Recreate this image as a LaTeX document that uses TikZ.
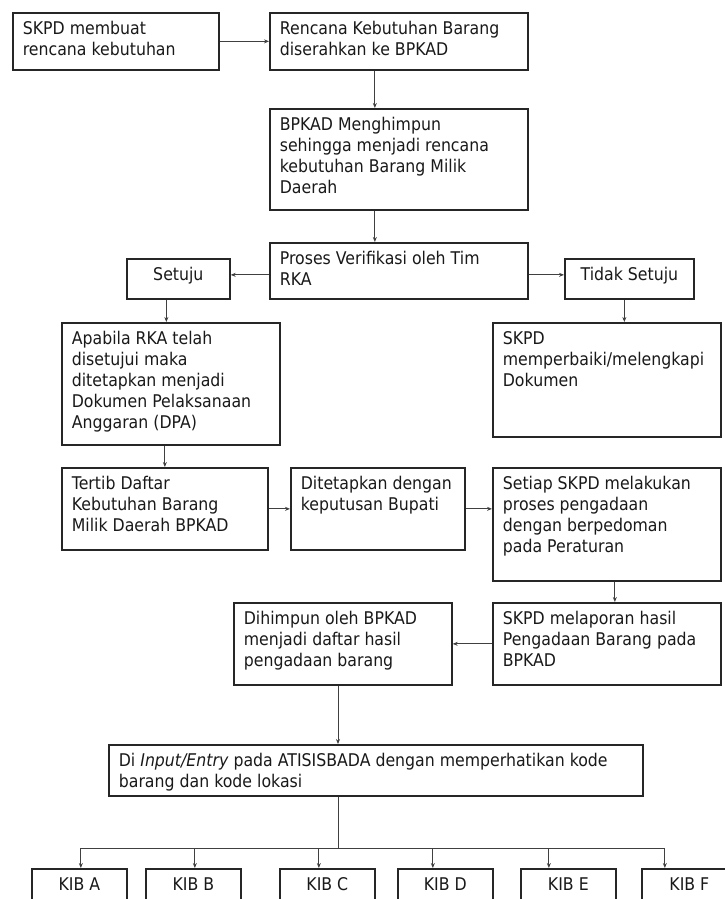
\documentclass[tikz,border=0pt]{standalone}
\usepackage{fontspec}
\setmainfont{DejaVu Sans}[FakeStretch=0.9]
\usepackage{tikz}
\usetikzlibrary{arrows.meta}

\newcommand{\boxtext}[3]{\parbox[t][#2pt][t]{#1pt}{\strut #3}}

\tikzset{
  box/.style={draw=black!85, line width=1.7pt, anchor=north west, inner xsep=10pt, inner ysep=7pt,
    text=black!90, font=\fontsize{17.5}{21}\selectfont},
  link/.style={draw=black!75, line width=1pt}
}

\begin{document}
\begin{tikzpicture}[x=1pt, y=-1pt, >={Stealth[length=5pt, width=4pt]}]
    \fill[white] (0,0) rectangle (724,899);
    \useasboundingbox (0,0) rectangle (724,899);
    \node[box] (skpd) at (12,12) {\boxtext{186}{43}{SKPD membuat\\ rencana kebutuhan}};
    \node[box] (rencana) at (269,12) {\boxtext{238}{43}{Rencana Kebutuhan Barang\\ diserahkan ke BPKAD}};
    \node[box] (bpkad) at (269,108) {\boxtext{238}{87}{BPKAD Menghimpun\\ sehingga menjadi rencana\\ kebutuhan Barang Milik\\ Daerah}};
    \node[box] (proses) at (269,242) {\boxtext{238}{42}{Proses Verifikasi oleh Tim\\ RKA}};
    \node[box] (setuju) at (126,258) {\boxtext{83}{26}{\centering Setuju}};
    \node[box] (tidak) at (564,258) {\boxtext{109}{26}{\centering Tidak Setuju}};
    \node[box] (apabila) at (61,322) {\boxtext{198}{108}{Apabila RKA telah\\ disetujui maka\\ ditetapkan menjadi\\ Dokumen Pelaksanaan\\ Anggaran (DPA)}};
    \node[box] (perbaiki) at (492,322) {\boxtext{208}{100}{SKPD\\ memperbaiki/melengkapi\\ Dokumen}};
    \node[box] (tertib) at (61,467) {\boxtext{186}{68}{Tertib Daftar\\ Kebutuhan Barang\\ Milik Daerah BPKAD}};
    \node[box] (ditetapkan) at (290,467) {\boxtext{154}{68}{Ditetapkan dengan\\ keputusan Bupati}};
    \node[box] (setiap) at (492,467) {\boxtext{208}{99}{Setiap SKPD melakukan\\ proses pengadaan\\ dengan berpedoman\\ pada Peraturan}};
    \node[box] (dihimpun) at (233,602) {\boxtext{198}{68}{Dihimpun oleh BPKAD\\ menjadi daftar hasil\\ pengadaan barang}};
    \node[box] (melaporan) at (492,602) {\boxtext{208}{68}{SKPD melaporan hasil\\ Pengadaan Barang pada\\ BPKAD}};
    \node[box] (input) at (108,744) {\boxtext{514}{37}{Di \textit{Input/Entry} pada ATISISBADA dengan memperhatikan kode\\ barang dan kode lokasi}};
    \foreach \n/\bx in {A/31, B/145, C/279, D/397, E/520, F/641}
        \node[box] (kib\n) at (\bx,868) {\boxtext{75}{36}{\centering KIB \n}};

    \draw[link, ->] (skpd.east) -- (rencana.west);
    \draw[link, ->] ([xshift=-24pt]rencana.south) -- ([xshift=-24pt]bpkad.north);
    \draw[link, ->] ([xshift=-24pt]bpkad.south) -- ([xshift=-24pt]proses.north);
    \draw[link, ->] ([yshift=-4pt]proses.west) -- ([yshift=-4pt]proses.west -| setuju.east);
    \draw[link, ->] ([yshift=-4pt]proses.east) -- ([yshift=-4pt]proses.east -| tidak.west);
    \draw[link, ->] ([xshift=-12pt]setuju.south) -- ([xshift=-12pt]setuju.south |- apabila.north);
    \draw[link, ->] ([xshift=-5pt]tidak.south) -- ([xshift=-5pt]tidak.south |- perbaiki.north);
    \draw[link, ->] (apabila.south -| tertib.north) -- (tertib.north);
    \draw[link, ->] (tertib.east) -- (ditetapkan.west);
    \draw[link, ->] (ditetapkan.east) -- (ditetapkan.east -| setiap.west);
    \draw[link, ->] ([xshift=8pt]setiap.south) -- ([xshift=8pt]melaporan.north);
    \draw[link, ->] (melaporan.west) -- (dihimpun.east);
    \coordinate (bus) at (338,848);
    \draw[link, ->] (dihimpun.south -| bus) -- (input.north -| bus);
    \draw[link] (input.south -| bus) -- (bus);
    \draw[link] ([xshift=1.5pt]kibA.north |- bus) -- ([xshift=-24.5pt]kibF.north |- bus);
    \foreach \n/\o in {A/1.5, B/1.5, C/-8.5, D/-12.5, E/-19.5, F/-24.5}
        \draw[link, ->] ([xshift=\o pt]kib\n.north |- bus) -- ([xshift=\o pt]kib\n.north);
\end{tikzpicture}
\end{document}
